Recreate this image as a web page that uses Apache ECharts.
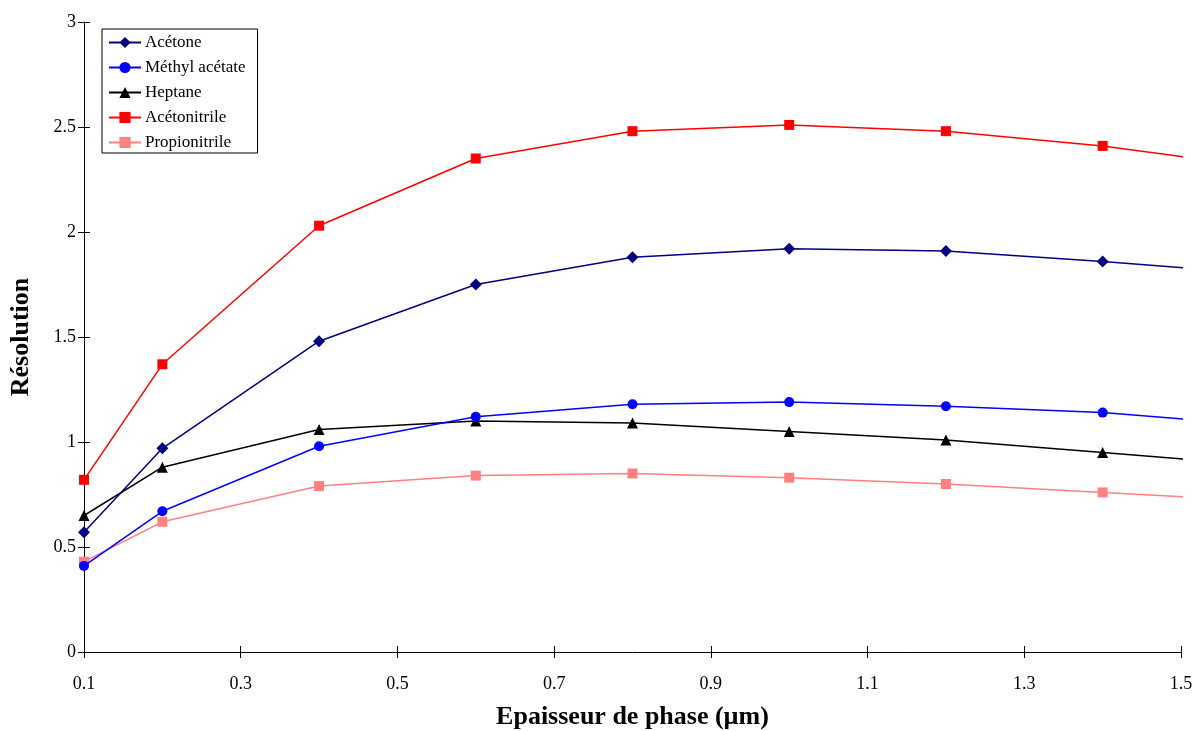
<!DOCTYPE html>
<html><head><meta charset="utf-8">
<script src="https://cdn.jsdelivr.net/npm/echarts@6/dist/echarts.min.js"></script>
<style>html,body{margin:0;padding:0;background:#fff}#c{width:1196px;height:731px}</style>
</head><body><div id="c"></div>
<script>
const xValues = [0.1, 0.2, 0.4, 0.6, 0.8, 1.0, 1.2, 1.4, 1.6];
const xTicks = [0.1, 0.3, 0.5, 0.7, 0.9, 1.1, 1.3, 1.5];
const seriesNames = ['Acétone', 'Méthyl acétate', 'Heptane', 'Acétonitrile', 'Propionitrile'];
const acetone = [0.57, 0.97, 1.48, 1.75, 1.88, 1.92, 1.91, 1.86, 1.80];
const methylAcetate = [0.41, 0.67, 0.98, 1.12, 1.18, 1.19, 1.17, 1.14, 1.08];
const heptane = [0.65, 0.88, 1.06, 1.10, 1.09, 1.05, 1.01, 0.95, 0.89];
const acetonitrile = [0.82, 1.37, 2.03, 2.35, 2.48, 2.51, 2.48, 2.41, 2.31];
const propionitrile = [0.43, 0.62, 0.79, 0.84, 0.85, 0.83, 0.80, 0.76, 0.72];

const FONT = '"Palatino Linotype","Book Antiqua",Palatino,"Liberation Serif",serif';
const styles = [
  {color: '#000080', symbol: 'diamond', size: 12},
  {color: '#0000ff', symbol: 'circle', size: 10},
  {color: '#000000', symbol: 'triangle', size: 11},
  {color: '#ff0000', symbol: 'rect', size: 10},
  {color: '#ff8080', symbol: 'rect', size: 10}
];
const values = [acetone, methylAcetate, heptane, acetonitrile, propionitrile];

const chart = echarts.init(document.getElementById('c'));
const baseX = {type: 'value', min: 0.1, max: 1.5, splitLine: {show: false}};
const baseY = {type: 'value', min: 0, max: 3, interval: 0.5, splitLine: {show: false}};
chart.setOption({
  animation: false,
  backgroundColor: '#fff',
  textStyle: {fontFamily: FONT},
  grid: {left: 84, right: 15, top: 22, bottom: 79, containLabel: false, outerBoundsMode: 'none'},
  legend: {
    orient: 'vertical', left: 102, top: 29,
    data: seriesNames,
    itemWidth: 32, itemHeight: 14, itemGap: 8,
    padding: [5, 12, 2, 6],
    borderColor: '#000', borderWidth: 1, backgroundColor: '#fff', borderRadius: 0,
    textStyle: {fontFamily: FONT, fontSize: 17, color: '#000', padding: [0, 0, 0, -1]}
  },
  xAxis: [
    Object.assign({}, baseX, {
      name: 'Epaisseur de phase (µm)', nameLocation: 'middle', nameGap: 52,
      nameTextStyle: {fontFamily: FONT, fontSize: 26, fontWeight: 'bold', color: '#000'},
      axisLine: {lineStyle: {color: '#000', width: 1}},
      axisTick: {show: true, inside: false, length: 6, customValues: xTicks, lineStyle: {color: '#000'}},
      axisLabel: {customValues: xTicks, margin: 23, fontFamily: FONT, fontSize: 18, color: '#000',
        formatter: v => String(Math.round(v * 10) / 10)}
    }),
    Object.assign({}, baseX, {
      position: 'bottom',
      axisLine: {show: false},
      axisTick: {show: true, inside: true, length: 6, customValues: xTicks, lineStyle: {color: '#000'}},
      axisLabel: {show: false}
    })
  ],
  yAxis: [
    Object.assign({}, baseY, {
      name: 'Résolution', nameLocation: 'middle', nameGap: 50, nameRotate: 90,
      nameTextStyle: {fontFamily: FONT, fontSize: 26, fontWeight: 'bold', color: '#000'},
      axisLine: {show: true, lineStyle: {color: '#000', width: 1}},
      axisTick: {show: true, inside: false, length: 6, lineStyle: {color: '#000'}},
      axisLabel: {margin: 8, fontFamily: FONT, fontSize: 18, color: '#000'}
    }),
    Object.assign({}, baseY, {
      position: 'left',
      axisLine: {show: false},
      axisTick: {show: true, inside: true, length: 6, lineStyle: {color: '#000'}},
      axisLabel: {show: false}
    })
  ],
  series: seriesNames.map((name, i) => ({
    name: name, type: 'line', xAxisIndex: 0, yAxisIndex: 0,
    data: xValues.map((x, j) => [x, values[i][j]]),
    symbol: styles[i].symbol, symbolSize: styles[i].size, showSymbol: true,
    clip: true,
    itemStyle: {color: styles[i].color},
    lineStyle: {color: styles[i].color, width: 1.5},
    z: 2 + (5 - i)
  }))
});
</script></body></html>
